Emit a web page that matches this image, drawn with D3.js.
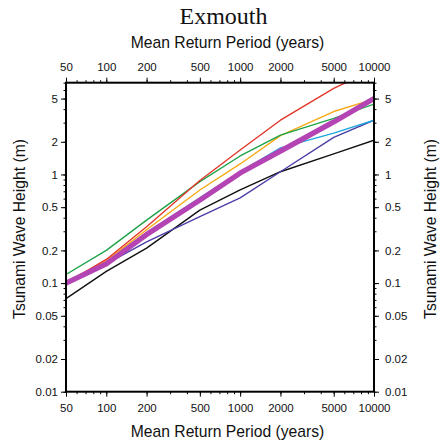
<!DOCTYPE html>
<html>
<head>
<meta charset="utf-8">
<script src="https://cdn.jsdelivr.net/npm/d3@7/dist/d3.min.js"></script>
<style>
  html, body { margin: 0; padding: 0; background: #fff; }
  svg { display: block; }
  .axis path, .axis line { stroke: #000; }
  .axis text { font-family: "Liberation Sans", Arial, sans-serif; font-size: 11.5px; fill: #111; }
  .title-axis { font-family: "Liberation Sans", Arial, sans-serif; font-size: 15.7px; fill: #111; }
</style>
</head>
<body>
<script>
// Return periods (years) at which each hazard curve is evaluated
const returnPeriods = [50, 100, 200, 500, 1000, 2000, 5000, 10000];

// Tsunami wave height (m) per curve
const redSeries     = [0.10, 0.165, 0.33, 0.88, 1.68, 3.16, 6.2, 9.3];
const orangeSeries  = [0.10, 0.16, 0.31, 0.72, 1.25, 2.28, 3.8, 4.95];
const greenSeries   = [0.12, 0.20, 0.38, 0.86, 1.48, 2.30, 3.28, 4.45];
const cyanSeries    = [0.10, 0.155, 0.29, 0.61, 1.06, 1.76, 2.40, 3.16];
const blueSeries    = [0.10, 0.15, 0.24, 0.41, 0.61, 1.06, 2.20, 3.16];
const blackSeries   = [0.072, 0.128, 0.21, 0.47, 0.72, 1.06, 1.55, 2.07];
const meanSeries    = [0.10, 0.15, 0.28, 0.58, 1.03, 1.64, 3.05, 5.0];

// Tick labels
const xTickValues = [50, 100, 200, 500, 1000, 2000, 5000, 10000];
const yTickValues = [0.01, 0.02, 0.05, 0.1, 0.2, 0.5, 1, 2, 5];
const yTickLabels = ["0.01", "0.02", "0.05", "0.1", "0.2", "0.5", "1", "2", "5"];

(function draw() {
  const W = 441, H = 448;
  const pLeft = 66, pRight = 374, pTop = 82.7, pBottom = 391.7;

  const svg = d3.select("body").append("svg").attr("width", W).attr("height", H);

  const x = d3.scaleLog().domain([50, 10000]).range([pLeft, pRight]);
  const y = d3.scaleLog().domain([0.01, 7]).range([pBottom, pTop]);

  // minor ticks at every integer multiple of a power of ten
  function minorTicks(lo, hi) {
    const out = [];
    for (let e = -3; e <= 5; e++) {
      for (let k = 1; k <= 9; k++) {
        const v = +(k * Math.pow(10, e)).toPrecision(6);
        if (v >= lo * 0.9999 && v <= hi * 1.0001) out.push(v);
      }
    }
    return out;
  }
  const xMinor = minorTicks(50, 10000);
  const yMinor = minorTicks(0.01, 7);

  // curves, clipped to the plot frame
  svg.append("clipPath").attr("id", "plotclip")
    .append("rect").attr("x", pLeft).attr("y", pTop)
    .attr("width", pRight - pLeft).attr("height", pBottom - pTop);

  const line = d3.line().x((d, i) => x(returnPeriods[i])).y(d => y(d));

  const curves = [
    { values: blackSeries,  color: "#111111", width: 1.4 },
    { values: blueSeries,   color: "#4a3fa6", width: 1.4 },
    { values: cyanSeries,   color: "#1ea6dc", width: 1.4 },
    { values: orangeSeries, color: "#f6a917", width: 1.4 },
    { values: greenSeries,  color: "#1fa34a", width: 1.4 },
    { values: redSeries,    color: "#e2372a", width: 1.4 },
    { values: meanSeries,   color: "#b444b4", width: 5.2 }
  ];

  const g = svg.append("g").attr("clip-path", "url(#plotclip)");
  curves.forEach(c => {
    g.append("path").datum(c.values)
      .attr("d", line)
      .attr("fill", "none")
      .attr("stroke", c.color)
      .attr("stroke-width", c.width)
      .attr("stroke-linejoin", "round");
  });

  function styleAxis(sel) {
    sel.attr("class", "axis");
    sel.select(".domain").remove();
    sel.selectAll("line").attr("stroke-width", 1);
  }

  // minor ticks
  svg.append("g").attr("transform", `translate(0,${pBottom})`)
    .call(d3.axisBottom(x).tickValues(xMinor).tickSize(2.5).tickFormat("")).call(styleAxis);
  svg.append("g").attr("transform", `translate(0,${pTop})`)
    .call(d3.axisTop(x).tickValues(xMinor).tickSize(2.5).tickFormat("")).call(styleAxis);
  svg.append("g").attr("transform", `translate(${pLeft},0)`)
    .call(d3.axisLeft(y).tickValues(yMinor).tickSize(2.5).tickFormat("")).call(styleAxis);
  svg.append("g").attr("transform", `translate(${pRight},0)`)
    .call(d3.axisRight(y).tickValues(yMinor).tickSize(2.5).tickFormat("")).call(styleAxis);

  // major ticks with labels
  svg.append("g").attr("transform", `translate(0,${pBottom})`)
    .call(d3.axisBottom(x).tickValues(xTickValues).tickSize(5).tickPadding(7).tickFormat(d3.format("d"))).call(styleAxis);
  svg.append("g").attr("transform", `translate(0,${pTop})`)
    .call(d3.axisTop(x).tickValues(xTickValues).tickSize(5).tickPadding(7).tickFormat(d3.format("d"))).call(styleAxis);
  svg.append("g").attr("transform", `translate(${pLeft},0)`)
    .call(d3.axisLeft(y).tickValues(yTickValues).tickSize(5).tickPadding(3).tickFormat((d, i) => yTickLabels[i])).call(styleAxis);
  svg.append("g").attr("transform", `translate(${pRight},0)`)
    .call(d3.axisRight(y).tickValues(yTickValues).tickSize(5).tickPadding(6).tickFormat((d, i) => yTickLabels[i])).call(styleAxis);

  // frame
  svg.append("rect")
    .attr("x", pLeft).attr("y", pTop).attr("width", pRight - pLeft).attr("height", pBottom - pTop)
    .attr("fill", "none").attr("stroke", "#000").attr("stroke-width", 2);

  // titles
  svg.append("text").attr("x", 223.5).attr("y", 24)
    .attr("text-anchor", "middle")
    .style("font-family", "'Liberation Serif', 'Times New Roman', serif")
    .style("font-size", "24px").style("fill", "#111")
    .text("Exmouth");

  svg.append("text").attr("class", "title-axis")
    .attr("x", 227.5).attr("y", 48).attr("text-anchor", "middle")
    .text("Mean Return Period (years)");
  svg.append("text").attr("class", "title-axis")
    .attr("x", 227.5).attr("y", 437).attr("text-anchor", "middle")
    .text("Mean Return Period (years)");

  const midY = 229;
  svg.append("text").attr("class", "title-axis")
    .attr("transform", `translate(25,${midY}) rotate(-90)`).attr("text-anchor", "middle")
    .text("Tsunami Wave Height (m)");
  svg.append("text").attr("class", "title-axis")
    .attr("transform", `translate(436,${midY}) rotate(-90)`).attr("text-anchor", "middle")
    .text("Tsunami Wave Height (m)");
})();
</script>
</body>
</html>
